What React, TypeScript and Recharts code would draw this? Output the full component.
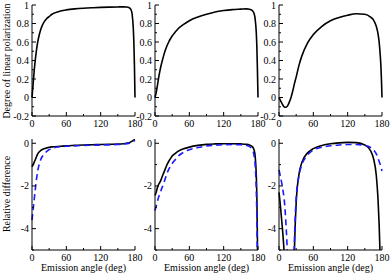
import { LineChart, Line, XAxis, YAxis } from "recharts";

const FONT = "'Liberation Serif', 'Times New Roman', serif";

// emission angle grid (deg), shared by every curve
const angles = [0, 2, 4, 6, 8, 10, 12, 15, 18, 21, 24, 27, 30, 35, 40, 50, 60, 75, 90, 105, 120, 135, 150, 160, 165, 170, 173, 175, 177, 178, 179, 180];

// degree of linear polarization, top row
const dolpLeft = [0, 0.15, 0.3, 0.42, 0.52, 0.6, 0.66, 0.73, 0.78, 0.815, 0.84, 0.86, 0.875, 0.9, 0.915, 0.935, 0.947, 0.958, 0.965, 0.97, 0.974, 0.977, 0.979, 0.98, 0.978, 0.97, 0.95, 0.9, 0.75, 0.6, 0.35, 0];
const dolpMid = [0, 0.05, 0.12, 0.2, 0.27, 0.33, 0.38, 0.45, 0.51, 0.56, 0.6, 0.635, 0.665, 0.705, 0.74, 0.79, 0.83, 0.87, 0.9, 0.925, 0.94, 0.95, 0.955, 0.958, 0.955, 0.94, 0.91, 0.85, 0.7, 0.55, 0.3, 0];
const dolpRight = [0, -0.025, -0.05, -0.075, -0.095, -0.105, -0.105, -0.09, -0.05, 0, 0.07, 0.15, 0.22, 0.35, 0.45, 0.59, 0.68, 0.77, 0.83, 0.865, 0.89, 0.905, 0.9, 0.87, 0.84, 0.77, 0.69, 0.6, 0.45, 0.35, 0.2, 0];

// relative difference, bottom row (solid black / dashed blue)
const diffLeftSolid = [-1.1, -1.0, -0.88, -0.75, -0.62, -0.5, -0.42, -0.34, -0.29, -0.26, -0.23, -0.21, -0.19, -0.17, -0.16, -0.14, -0.12, -0.1, -0.08, -0.07, -0.06, -0.05, -0.04, -0.02, 0, 0.03, 0.07, 0.1, 0.13, 0.15, 0.17, 0.18];
const diffLeftDashed = [-3.6, -3.1, -2.6, -2.1, -1.65, -1.3, -1.05, -0.78, -0.62, -0.52, -0.43, -0.36, -0.3, -0.24, -0.2, -0.16, -0.14, -0.12, -0.1, -0.09, -0.08, -0.07, -0.06, -0.04, -0.02, 0, 0.03, 0.05, 0.08, 0.1, 0.12, 0.14];
const diffMidSolid = [-2.45, -2.3, -2.1, -1.95, -1.85, -1.75, -1.6, -1.4, -1.2, -1.0, -0.85, -0.72, -0.6, -0.48, -0.38, -0.26, -0.18, -0.1, -0.05, -0.03, -0.02, -0.02, -0.03, -0.05, -0.08, -0.15, -0.3, -0.6, -1.5, -2.5, -4.5, -8];
const diffMidDashed = [-3.15, -2.95, -2.75, -2.55, -2.4, -2.25, -2.1, -1.9, -1.65, -1.4, -1.22, -1.08, -0.95, -0.78, -0.62, -0.42, -0.3, -0.2, -0.13, -0.09, -0.07, -0.06, -0.07, -0.1, -0.15, -0.3, -0.55, -1.0, -2.2, -3.5, -6, -10];
const diffRightSolid = [-2.3, -2.8, -3.4, -4.0, -4.7, -5.6, -7, -10, -14, -16, -9, -5, -2.8, -1.45, -0.9, -0.45, -0.25, -0.1, -0.02, 0.02, 0.04, 0.03, -0.08, -0.35, -0.7, -1.5, -2.6, -3.8, -5.5, -6.5, -8, -10];
const diffRightDashed = [-1.25, -1.5, -1.75, -2.05, -2.4, -2.9, -3.7, -5.5, -9, -13, -8, -4.5, -2.6, -1.5, -1.0, -0.55, -0.32, -0.18, -0.12, -0.08, -0.06, -0.06, -0.1, -0.2, -0.3, -0.5, -0.7, -0.85, -1.0, -1.1, -1.2, -1.3];

const xTicks = [0, 30, 60, 90, 120, 150, 180];
const xLabels = [0, 60, 120, 180];
const polTicks = [-0.2, -0.1, 0, 0.1, 0.2, 0.3, 0.4, 0.5, 0.6, 0.7, 0.8, 0.9, 1];
const polLabels = [-0.2, 0, 0.2, 0.4, 0.6, 0.8, 1];
const diffTicks = [-5, -4, -3, -2, -1, 0];
const diffLabels = [-4, -2, 0];

const PW = 103;
const PH = 111;

function xTick(side: "bottom" | "top") {
  return (p: any) => {
    const v = p.payload.value;
    const major = xLabels.includes(v);
    const d = side === "bottom" ? -1 : 1;
    return (
      <g>
        <line x1={p.x} x2={p.x} y1={p.y} y2={p.y + d * (major ? 4 : 2)} stroke="#000" />
        {side === "bottom" && major ? (
          <text x={p.x} y={p.y + 11} textAnchor="middle" fontSize={10} fontFamily={FONT} fill="#000">
            {v}
          </text>
        ) : null}
      </g>
    );
  };
}

function yTick(side: "left" | "right", labels: number[]) {
  return (p: any) => {
    const v = p.payload.value;
    const major = labels.includes(v);
    const d = side === "left" ? 1 : -1;
    return (
      <g>
        <line x1={p.x} x2={p.x + d * (major ? 4 : 2)} y1={p.y} y2={p.y} stroke="#000" />
        {side === "left" && major ? (
          <text x={p.x - 3} y={p.y + 3.5} textAnchor="end" fontSize={10} fontFamily={FONT} fill="#000">
            {v}
          </text>
        ) : null}
      </g>
    );
  };
}

function Panel(props: {
  left: number;
  top: number;
  solid: number[];
  dashed?: number[];
  domain: number[];
  ticks: number[];
  labels: number[];
}) {
  const { left, top, solid, dashed, domain, ticks, labels } = props;
  const data = angles.map((a, i) => ({ angle: a, solid: solid[i], dashed: dashed ? dashed[i] : null }));
  return (
    <div style={{ position: "absolute", left: left - 30, top: top - 5 }}>
      <LineChart width={30 + PW + 10} height={5 + PH + 20} data={data} margin={{ top: 5, right: 10, bottom: 0, left: 0 }}>
        <XAxis xAxisId="b" dataKey="angle" type="number" domain={[0, 180]} ticks={xTicks} interval={0}
          tickSize={0} tickMargin={0} tickLine={false} height={20} axisLine={{ stroke: "#000" }} tick={xTick("bottom")} />
        <XAxis xAxisId="t" orientation="top" dataKey="angle" type="number" domain={[0, 180]} ticks={xTicks} interval={0}
          tickSize={0} tickMargin={0} tickLine={false} height={0} axisLine={{ stroke: "#000" }} tick={xTick("top")} />
        <YAxis yAxisId="l" type="number" domain={domain} allowDataOverflow ticks={ticks} interval={0}
          tickSize={0} tickMargin={0} tickLine={false} width={30} axisLine={{ stroke: "#000" }} tick={yTick("left", labels)} />
        <YAxis yAxisId="r" orientation="right" type="number" domain={domain} allowDataOverflow ticks={ticks} interval={0}
          tickSize={0} tickMargin={0} tickLine={false} width={0} axisLine={{ stroke: "#000" }} tick={yTick("right", labels)} />
        <Line xAxisId="b" yAxisId="l" type="monotone" dataKey="solid" stroke="#000" strokeWidth={1.6}
          dot={false} isAnimationActive={false} />
        {dashed ? (
          <Line xAxisId="b" yAxisId="l" type="monotone" dataKey="dashed" stroke="#1a1aff" strokeWidth={1.6}
            strokeDasharray="6 4" dot={false} isAnimationActive={false} />
        ) : null}
      </LineChart>
    </div>
  );
}

const cols = [32, 155, 279];
const rows = [5, 139];

export default function App() {
  return (
    <div style={{ position: "absolute", left: 0, top: 0, width: 390, height: 275, background: "#fff" }}>
      <svg width={390} height={275} style={{ position: "absolute", left: 0, top: 0 }}>
        <text x={9.5} y={61} transform="rotate(-90 9.5 61)" textAnchor="middle" fontSize={10} fontFamily={FONT} fill="#000">
          Degree of linear polarization
        </text>
        <text x={9.5} y={194} transform="rotate(-90 9.5 194)" textAnchor="middle" fontSize={10} fontFamily={FONT} fill="#000">
          Relative difference
        </text>
        {cols.map((c) => (
          <text key={c} x={c + PW / 2} y={271} textAnchor="middle" fontSize={10} fontFamily={FONT} fill="#000">
            Emission angle (deg)
          </text>
        ))}
      </svg>
      <Panel left={cols[0]} top={rows[0]} solid={dolpLeft} domain={[-0.2, 1]} ticks={polTicks} labels={polLabels} />
      <Panel left={cols[1]} top={rows[0]} solid={dolpMid} domain={[-0.2, 1]} ticks={polTicks} labels={polLabels} />
      <Panel left={cols[2]} top={rows[0]} solid={dolpRight} domain={[-0.2, 1]} ticks={polTicks} labels={polLabels} />
      <Panel left={cols[0]} top={rows[1]} solid={diffLeftSolid} dashed={diffLeftDashed} domain={[-5, 0.2]} ticks={diffTicks} labels={diffLabels} />
      <Panel left={cols[1]} top={rows[1]} solid={diffMidSolid} dashed={diffMidDashed} domain={[-5, 0.2]} ticks={diffTicks} labels={diffLabels} />
      <Panel left={cols[2]} top={rows[1]} solid={diffRightSolid} dashed={diffRightDashed} domain={[-5, 0.2]} ticks={diffTicks} labels={diffLabels} />
    </div>
  );
}
